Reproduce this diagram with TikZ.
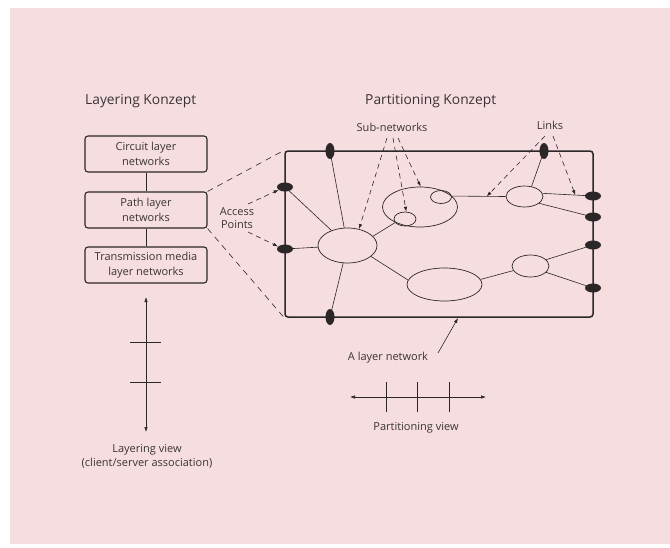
\documentclass[tikz,border=0pt]{standalone}
\usepackage{fontspec}
\setmainfont{Open Sans}
\usetikzlibrary{arrows.meta,shapes.geometric}
\definecolor{paper}{HTML}{F6DDE0}
\definecolor{ink}{HTML}{2B2627}
\definecolor{txt}{HTML}{3A3335}
\begin{document}
\begin{tikzpicture}[x=1pt,y=-1pt,
  layerbox/.style={draw=ink, line width=1.1pt, rounded corners=3pt,
    minimum width=122pt, minimum height=36pt, align=center, text=txt,
    font=\fontsize{11}{15}\selectfont, inner sep=0pt},
  subnet/.style={draw=ink, line width=0.7pt, ellipse, inner sep=0pt},
  aph/.style={fill=ink, ellipse, minimum width=16pt, minimum height=9pt, inner sep=0pt},
  apv/.style={fill=ink, ellipse, minimum width=9pt, minimum height=16pt, inner sep=0pt},
  link/.style={draw=ink, line width=0.6pt},
  tip/.style={-{Latex[length=5pt,width=3.5pt]}},
  pointer/.style={draw=ink, line width=0.6pt, dash pattern=on 5pt off 4pt, tip},
  lbl/.style={text=txt, font=\fontsize{11}{13}\selectfont, inner sep=0pt, align=center},
  title/.style={text=txt, font=\fontsize{13.8}{16}\selectfont, inner sep=0pt, anchor=west}]

% sheet
\fill[white] (0,0) rectangle (670,547);
\fill[paper] (10,8) rectangle (670,544);
\useasboundingbox (0,0) rectangle (670,547);

% titles
\node[title] (tLayer) at (85,101) {Layering Konzept};
\node[title] (tPart) at (365,101) {Partitioning Konzept};

% layer stack
\node[layerbox] (circ) at (146,154) {Circuit layer\\networks};
\node[layerbox] (path) at (146,210) {Path layer\\networks};
\node[layerbox] (trans) at (146,265) {Transmission media\\layer networks};
\draw[link] (circ) -- (path);
\draw[link] (path) -- (trans);

% the layer network
\node[draw=ink, line width=1.5pt, rounded corners=3pt, minimum width=308pt,
      minimum height=166pt, inner sep=0pt] (net) at (439,234) {};
\draw[link, dash pattern=on 6pt off 5pt] (path.north east) -- (net.north west);
\draw[link, dash pattern=on 6pt off 5pt] (path.south east) -- (net.south west);

% sub-networks
\node[subnet, minimum width=59pt, minimum height=35pt] (snBig) at (347.5,245.5) {};
\node[subnet, minimum width=75pt, minimum height=40pt] (snTop) at (420,207) {};
\node[subnet, minimum width=22pt, minimum height=14pt] (snIn1) at (405,219) {};
\node[subnet, minimum width=21pt, minimum height=13pt] (snIn2) at (441,197) {};
\node[subnet, minimum width=37pt, minimum height=21pt] (snTR) at (524.5,196.5) {};
\node[subnet, minimum width=75pt, minimum height=33pt] (snLM) at (444.5,284.5) {};
\node[subnet, minimum width=37pt, minimum height=22pt] (snLR) at (530.5,266) {};

% access points
\coordinate (pT1) at (330,151);
\coordinate (pT2) at (544,151);
\coordinate (pL1) at (285,187);
\coordinate (pL2) at (285,249);
\coordinate (pR1) at (593,196);
\coordinate (pR2) at (593,217);
\coordinate (pR3) at (593,245);
\coordinate (pR4) at (593,288);
\coordinate (pB) at (330,317);

% links
\draw[link] (pT1) -- (snBig);
\draw[link] (pL1) -- (snBig);
\draw[link] (pL2) -- (snBig);
\draw[link] (pB) -- (snBig);
\draw[link] (snBig.20) -- (snIn1.200);
\draw[link] (snIn2.5) -- coordinate[pos=0.65] (lk1) (snTR.180);
\draw[link] (snTR.55) -- (pT2);
\draw[link] (snTR.10) -- coordinate[pos=0.65] (lk2) (pR1);
\draw[link] (snTR.-25) -- (pR2);
\draw[link] (snBig.-25) -- (snLM.173);
\draw[link] (snLM.8) -- (snLR.195);
\draw[link] (snLR.22) -- (pR3);
\draw[link] (snLR.-22) -- (pR4);

\node[apv] (apT1) at (pT1) {};
\node[apv] (apT2) at (pT2) {};
\node[aph] (apL1) at (pL1) {};
\node[aph] (apL2) at (pL2) {};
\node[aph] (apR1) at (pR1) {};
\node[aph] (apR2) at (pR2) {};
\node[aph] (apR3) at (pR3) {};
\node[aph] (apR4) at (pR4) {};
\node[apv] (apB) at (pB) {};

% labels and pointers
\node[lbl] (lblAP) at (237,218) {Access\\Points};
\coordinate (apFrom1) at (248,204);
\coordinate (apFrom2) at (248,232);
\draw[pointer] (apFrom1) -- (apL1.205);
\draw[pointer] (apFrom2) -- (apL2.160);

\node[lbl] (lblSub) at (392,127) {Sub-networks};
\coordinate (sub1) at (387,138);
\coordinate (sub2) at (393,138);
\coordinate (sub3) at (398,138);
\draw[pointer] (sub1) -- (snBig.55);
\draw[pointer] (sub2) -- (snIn1.80);
\draw[pointer] (sub3) -- (snTop.88);

\node[lbl] (lblLinks) at (550,125) {Links};
\coordinate (lnk1) at (545,136);
\coordinate (lnk2) at (553,136);
\draw[pointer] (lnk1) -- (lk1);
\draw[pointer] (lnk2) -- (lk2);

\node[lbl] (lblNet) at (388,358) {A layer network};
\coordinate (netFrom) at (438,353);
\coordinate (netTo) at (458,318);
\draw[link, tip] (netFrom) -- (netTo);

% layering view axis
\coordinate (lvTop) at (146,297);
\coordinate (lvBot) at (146,432);
\draw[link, {Latex[length=5pt,width=3.5pt]}-{Latex[length=5pt,width=3.5pt]}] (lvTop) -- (lvBot);
\draw[link] (130,342) -- (161,342);
\draw[link] (130,382) -- (161,382);
\node[lbl, font=\fontsize{11}{14}\selectfont] (lblLV) at (147,456) {Layering view\\(client/server association)};

% partitioning view axis
\coordinate (pvL) at (350,397);
\coordinate (pvR) at (486,397);
\draw[link, {Latex[length=5pt,width=3.5pt]}-{Latex[length=5pt,width=3.5pt]}] (pvL) -- (pvR);
\draw[link] (386,382) -- (386,412);
\draw[link] (417,382) -- (417,412);
\draw[link] (449,382) -- (449,412);
\node[lbl] (lblPV) at (416,428) {Partitioning view};
\end{tikzpicture}
\end{document}
